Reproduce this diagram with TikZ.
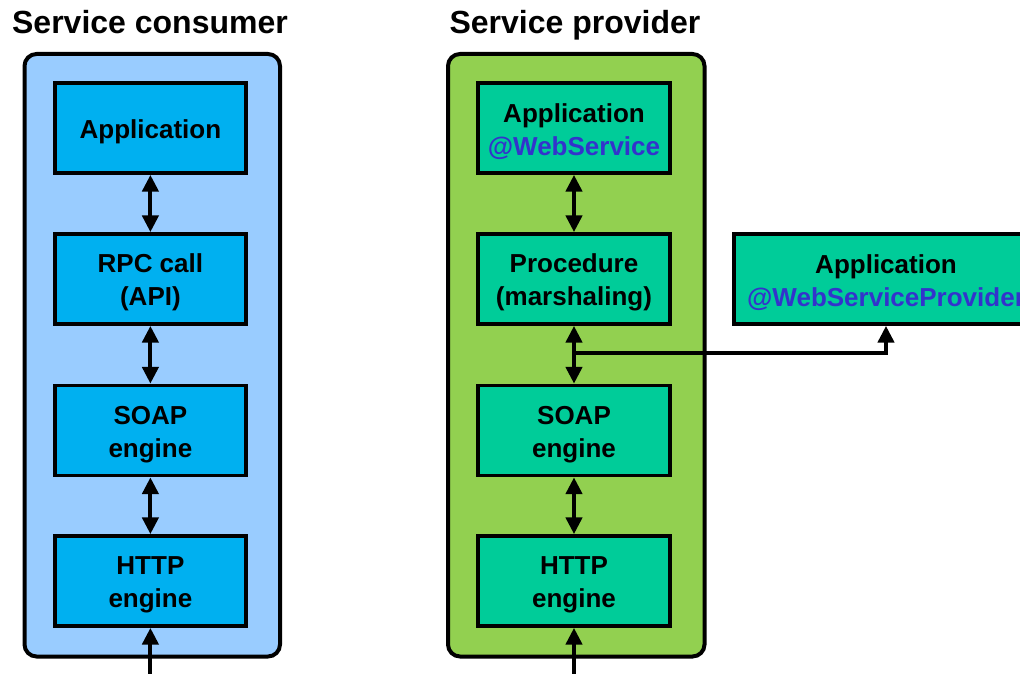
\documentclass[tikz,border=0pt]{standalone}
\usepackage{fontspec}
\setmainfont{Liberation Sans}
\usetikzlibrary{arrows.meta}
\definecolor{consbg}{RGB}{153,204,255}
\definecolor{consbox}{RGB}{0,176,240}
\definecolor{provbg}{RGB}{146,208,80}
\definecolor{provbox}{RGB}{0,204,153}
\definecolor{annot}{RGB}{51,51,204}
\newcommand{\sx}{\rule{0pt}{19.4pt}}
\tikzset{
  container/.style={draw=black, line width=3pt, rounded corners=9pt},
  layerbox/.style={draw=black, line width=2.8pt, minimum width=0.75pt*191.5, minimum height=0.75pt*90,
    align=center, inner sep=0pt, font=\bfseries\fontsize{19.5}{25}\selectfont},
  title/.style={font=\bfseries\fontsize{24}{28}\selectfont, inner sep=0pt, anchor=base},
  conn/.style={line width=3pt, {Triangle[width=12pt,length=12.5pt]}-{Triangle[width=12pt,length=12.5pt]}},
  upconn/.style={line width=3pt, -{Triangle[width=12pt,length=12.5pt]}}
}
\begin{document}
\begin{tikzpicture}[x=0.75pt,y=-0.75pt]
\useasboundingbox (0,0) rectangle (1020,674);
\clip (0,0) rectangle (1020,674);
% titles
\node[title] (tcons) at (150,33.3) {Service consumer};
\node[title] (tprov) at (575,33.3) {Service provider};
% containers
\draw[container, fill=consbg] (24.5,54) rectangle (280,656.5);
\draw[container, fill=provbg] (448,54) rectangle (704.5,656.5);
% consumer stack
\node[layerbox, fill=consbox] (capp) at (150.4,128) {\sx Application};
\node[layerbox, fill=consbox] (crpc) at (150.4,279) {\sx RPC call\\(API)};
\node[layerbox, fill=consbox] (csoap) at (150.4,430.5) {\sx SOAP\\engine};
\node[layerbox, fill=consbox] (chttp) at (150.4,581) {\sx HTTP\\engine};
% provider stack
\node[layerbox, fill=provbox] (papp) at (574,128) {\sx Application\\\textcolor{annot}{@WebService}};
\node[layerbox, fill=provbox] (pproc) at (574,279) {\sx Procedure\\(marshaling)};
\node[layerbox, fill=provbox] (psoap) at (574,430.5) {\sx SOAP\\engine};
\node[layerbox, fill=provbox] (phttp) at (574,581) {\sx HTTP\\engine};
% extra application
\node[layerbox, fill=provbox, minimum width=0.75pt*304] (xapp) at (886,279) {\sx Application\\\textcolor{annot}{@WebServiceProvider}};
% connectors
\draw[conn] (capp.south) -- (crpc.north);
\draw[conn] (crpc.south) -- (csoap.north);
\draw[conn] (csoap.south) -- (chttp.north);
\draw[conn] (papp.south) -- (pproc.north);
\draw[conn] (pproc.south) -- (psoap.north);
\draw[conn] (psoap.south) -- (phttp.north);
\coordinate (junc) at (574,352.7);
\draw[upconn] (junc) -| (xapp.south);
\coordinate (cin) at (150.4,674);
\coordinate (pin) at (574,674);
\draw[upconn] (cin) -- (chttp.south);
\draw[upconn] (pin) -- (phttp.south);
\end{tikzpicture}
\end{document}
